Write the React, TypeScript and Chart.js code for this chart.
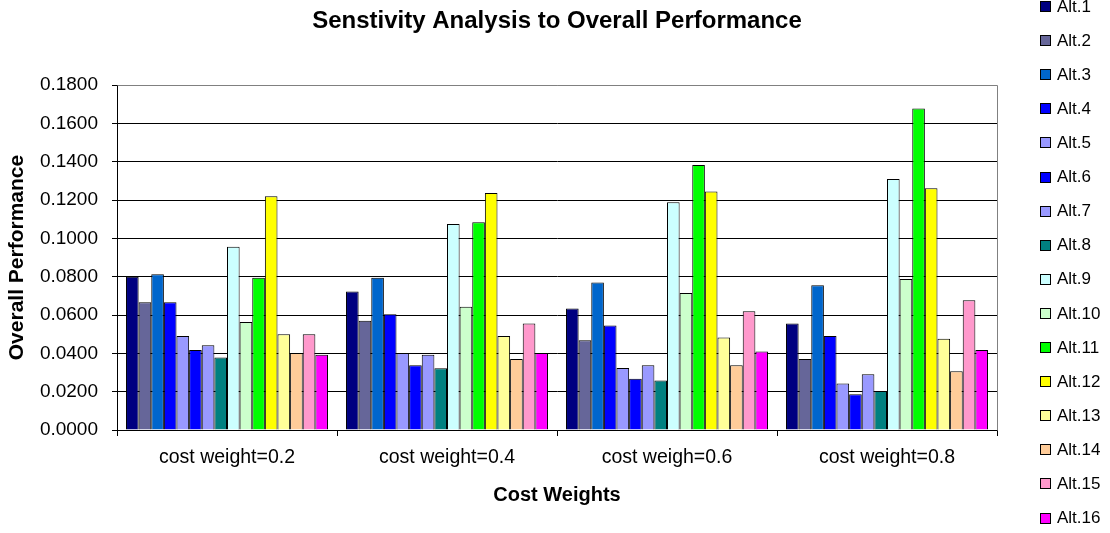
import React, { useEffect, useRef } from "react";
import { Chart, registerables } from "chart.js";

Chart.register(...registerables);

const chartTitle = "Senstivity Analysis to Overall Performance";
const xAxisTitle = "Cost Weights";
const yAxisTitle = "Overall Performance";
const categories = ["cost weight=0.2", "cost weight=0.4", "cost weigh=0.6", "cost weight=0.8"];
const seriesNames = [
  "Alt.1", "Alt.2", "Alt.3", "Alt.4", "Alt.5", "Alt.6", "Alt.7", "Alt.8",
  "Alt.9", "Alt.10", "Alt.11", "Alt.12", "Alt.13", "Alt.14", "Alt.15", "Alt.16",
];
const seriesColors = [
  "#000080", "#666699", "#0066CC", "#0000FF", "#9999FF", "#0000FF", "#9999FF", "#008080",
  "#CCFFFF", "#CCFFCC", "#00FF00", "#FFFF00", "#FFFF99", "#FFCC99", "#FF99CC", "#FF00FF",
];

const alt1 = [0.0800, 0.0722, 0.0634, 0.0556];
const alt2 = [0.0667, 0.0570, 0.0468, 0.0370];
const alt3 = [0.0812, 0.0795, 0.0770, 0.0755];
const alt4 = [0.0667, 0.0604, 0.0545, 0.0490];
const alt5 = [0.0490, 0.0402, 0.0324, 0.0243];
const alt6 = [0.0417, 0.0338, 0.0267, 0.0187];
const alt7 = [0.0442, 0.0393, 0.0338, 0.0291];
const alt8 = [0.0378, 0.0322, 0.0258, 0.0203];
const alt9 = [0.0956, 0.1075, 0.1188, 0.1309];
const alt10 = [0.0563, 0.0643, 0.0715, 0.0788];
const alt11 = [0.0795, 0.1084, 0.1382, 0.1677];
const alt12 = [0.1219, 0.1236, 0.1245, 0.1261];
const alt13 = [0.0499, 0.0490, 0.0482, 0.0476];
const alt14 = [0.0402, 0.0370, 0.0338, 0.0306];
const alt15 = [0.0499, 0.0556, 0.0620, 0.0677];
const alt16 = [0.0393, 0.0402, 0.0410, 0.0417];

const seriesValues = [alt1, alt2, alt3, alt4, alt5, alt6, alt7, alt8, alt9, alt10, alt11, alt12, alt13, alt14, alt15, alt16];

const yMin = 0;
const yMax = 0.18;
const yStep = 0.02;

const FONT = "'Liberation Sans', Arial, sans-serif";

const frameAndLegend = {
  id: "frameAndLegend",
  afterDraw(chart: any) {
    const { ctx, chartArea } = chart;
    ctx.save();
    // plot area border (top + right) in grey
    ctx.strokeStyle = "#808080";
    ctx.lineWidth = 1;
    ctx.beginPath();
    ctx.moveTo(Math.round(chartArea.left) + 0.5, Math.round(chartArea.top) + 0.5);
    ctx.lineTo(Math.round(chartArea.right) + 0.5, Math.round(chartArea.top) + 0.5);
    ctx.lineTo(Math.round(chartArea.right) + 0.5, Math.round(chartArea.bottom) + 0.5);
    ctx.stroke();

    // legend
    const ds = chart.data.datasets;
    const boxX = 1040;
    const textX = 1057;
    const startY = 6;
    const gap = 34.1;
    ctx.font = `17px ${FONT}`;
    ctx.textBaseline = "middle";
    ctx.textAlign = "left";
    for (let i = 0; i < ds.length; i++) {
      const cy = startY + i * gap;
      ctx.fillStyle = ds[i].backgroundColor;
      ctx.fillRect(boxX, Math.round(cy - 5), 10, 10);
      ctx.strokeStyle = "#000";
      ctx.strokeRect(boxX + 0.5, Math.round(cy - 5) + 0.5, 10, 10);
      ctx.fillStyle = "#000";
      ctx.fillText(ds[i].label, textX, cy + 1);
    }
    ctx.restore();
  },
};

export default function App() {
  const canvasRef = useRef<HTMLCanvasElement | null>(null);

  useEffect(() => {
    const canvas = canvasRef.current;
    if (!canvas) return;
    const chart = new Chart(canvas, {
      type: "bar",
      data: {
        labels: categories,
        datasets: seriesNames.map((name, i) => ({
          label: name,
          data: seriesValues[i],
          backgroundColor: seriesColors[i],
          borderColor: "#000000",
          borderWidth: 1,
          categoryPercentage: 0.918,
          barPercentage: 1.0,
        })),
      },
      options: {
        animation: false,
        responsive: false,
        devicePixelRatio: 1,
        layout: { padding: { left: 0, right: 113, top: 0, bottom: 0 } },
        plugins: {
          legend: { display: false },
          tooltip: { enabled: false },
          title: {
            display: true,
            text: chartTitle,
            fullSize: false,
            color: "#000",
            font: { family: FONT, size: 24, weight: "bold" },
            padding: { top: 6.6, bottom: 49.6 },
          },
        },
        scales: {
          x: {
            afterFit: (s: any) => { s.height = 103; },
            grid: {
              display: true,
              drawOnChartArea: false,
              drawTicks: true,
              tickLength: 6,
              offset: true,
              color: "#000",
            },
            border: { display: true, color: "#000", width: 1 },
            ticks: {
              color: "#000",
              font: { family: FONT, size: 19.5 },
              padding: 10,
              maxRotation: 0,
              autoSkip: false,
            },
            title: {
              display: true,
              text: xAxisTitle,
              color: "#000",
              font: { family: FONT, size: 20, weight: "bold" },
              padding: { top: 0, bottom: 26 },
            },
          },
          y: {
            min: yMin,
            max: yMax,
            afterFit: (s: any) => { s.width = 117; },
            grid: {
              color: (c: any) => (c.tick && Math.abs(c.tick.value - yMax) < 1e-9 ? "#808080" : "#000"),
              tickColor: "#000",
              drawTicks: true,
              tickLength: 5,
            },
            border: { display: true, color: "#000", width: 1 },
            ticks: {
              stepSize: yStep,
              color: "#000",
              font: { family: FONT, size: 19 },
              padding: 14,
              callback: (v: any) => Number(v).toFixed(4),
            },
            title: {
              display: true,
              text: yAxisTitle,
              color: "#000",
              font: { family: FONT, size: 21, weight: "bold" },
              padding: { top: 4.4, bottom: 0 },
            },
          },
        },
      } as any,
      plugins: [frameAndLegend],
    });
    return () => chart.destroy();
  }, []);

  return (
    <div style={{ position: "absolute", left: 0, top: 0, width: 1110, height: 533, background: "#fff" }}>
      <canvas ref={canvasRef} width={1110} height={533} style={{ display: "block", width: 1110, height: 533 }} />
    </div>
  );
}
